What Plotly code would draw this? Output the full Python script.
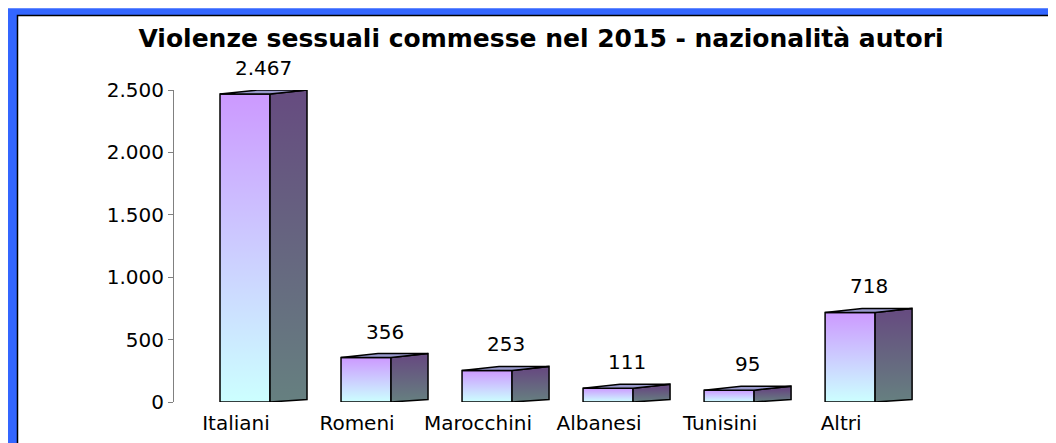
import plotly.graph_objects as go

categories = ["Italiani", "Romeni", "Marocchini", "Albanesi", "Tunisini", "Altri"]
values = [2467, 356, 253, 111, 95, 718]
y_tick_vals = [0, 500, 1000, 1500, 2000, 2500]
title_text = "Violenze sessuali commesse nel 2015 - nazionalità autori"

# page body adds an 8px offset; figure coordinates are screen coordinates minus 8
W, H = 1048, 435
ML, MR, MT, MB = 166, 106, 82, 40.5
PW = W - ML - MR
PH = H - MT - MB
X_MIN, X_MAX = -0.5124, 5.9
Y_MIN, Y_MAX = 0, 2500
x_per_px = (X_MAX - X_MIN) / PW
y_per_px = (Y_MAX - Y_MIN) / PH

FRONT_L = -16 * x_per_px
FRONT_R = 34 * x_per_px
DEPTH_X = 37 * x_per_px
RISE_TOP = 4 * y_per_px
RISE_BOT = 2.5 * y_per_px

FRONT_TOP, FRONT_BOT = "#CC99FF", "#CCFFFF"
SIDE_TOP, SIDE_BOT = "#664C80", "#668080"
TOP_FACE = "#9999CC"
EDGE = dict(color="black", width=1.5)

fig = go.Figure()
for i, (cat, v) in enumerate(zip(categories, values)):
    xl, xr = i + FRONT_L, i + FRONT_R
    xb = xr + DEPTH_X
    # front face
    fig.add_trace(go.Scatter(
        x=[xl, xr, xr, xl, xl], y=[0, 0, v, v, 0], mode="lines", fill="toself",
        fillgradient=dict(type="vertical", start=0, stop=v,
                          colorscale=[[0, FRONT_BOT], [1, FRONT_TOP]]),
        line=EDGE, hoverinfo="skip", showlegend=False, cliponaxis=False))
    # side face
    fig.add_trace(go.Scatter(
        x=[xr, xb, xb, xr, xr], y=[0, RISE_BOT, v + RISE_TOP, v, 0], mode="lines", fill="toself",
        fillgradient=dict(type="vertical", start=0, stop=v,
                          colorscale=[[0, SIDE_BOT], [1, SIDE_TOP]]),
        line=EDGE, hoverinfo="skip", showlegend=False, cliponaxis=False))
    # top face
    fig.add_trace(go.Scatter(
        x=[xl, xr, xb, xl + DEPTH_X, xl], y=[v, v, v + RISE_TOP, v + RISE_TOP, v],
        mode="lines", fill="toself", fillcolor=TOP_FACE,
        line=EDGE, hoverinfo="skip", showlegend=False, cliponaxis=False))
    fig.add_annotation(
        x=i + FRONT_L + (FRONT_R - FRONT_L) / 2 + DEPTH_X / 2, y=v,
        text=f"{v:,}".replace(",", "."), showarrow=False, yshift=26,
        font=dict(family="DejaVu Sans", size=20, color="black"),
        xanchor="center", yanchor="middle")

def px2paper_x(px):
    return (px - ML) / PW

def px2paper_y(py):
    return (H - MB - py) / PH

shapes = [
    dict(type="rect", xref="paper", yref="paper", layer="below",
         x0=px2paper_x(0), x1=px2paper_x(1080), y0=px2paper_y(0), y1=px2paper_y(470),
         fillcolor="#3366FF", line=dict(width=0)),
    dict(type="rect", xref="paper", yref="paper", layer="below",
         x0=px2paper_x(9.5), x1=px2paper_x(1090), y0=px2paper_y(7.5), y1=px2paper_y(480),
         fillcolor="white", line=dict(color="black", width=1.5)),
]

fig.update_layout(
    width=W, height=H,
    margin=dict(l=ML, r=MR, t=MT, b=MB, pad=0, autoexpand=False),
    paper_bgcolor="white", plot_bgcolor="rgba(0,0,0,0)",
    separators=",.",
    shapes=shapes,
    title=dict(text=title_text, x=533 / W, xref="container", xanchor="center",
               y=1 - 30 / H, yref="container", yanchor="middle",
               font=dict(family="DejaVu Sans", size=25, color="black", weight="bold")),
    font=dict(family="DejaVu Sans", size=20, color="black"),
    xaxis=dict(range=[X_MIN, X_MAX], tickvals=list(range(len(categories))), ticktext=categories,
               showline=False, showgrid=False, zeroline=False, ticks="",
               ticklabelstandoff=7, automargin=False,
               tickfont=dict(family="DejaVu Sans", size=20, color="black")),
    yaxis=dict(range=[Y_MIN, Y_MAX], tickvals=y_tick_vals, tickformat=",d",
               showline=True, linecolor="#808080", linewidth=1,
               ticks="outside", ticklen=5, tickcolor="#808080",
               showgrid=False, zeroline=False, automargin=False,
               tickfont=dict(family="DejaVu Sans", size=20, color="black")),
)

fig.write_html("out.html")
